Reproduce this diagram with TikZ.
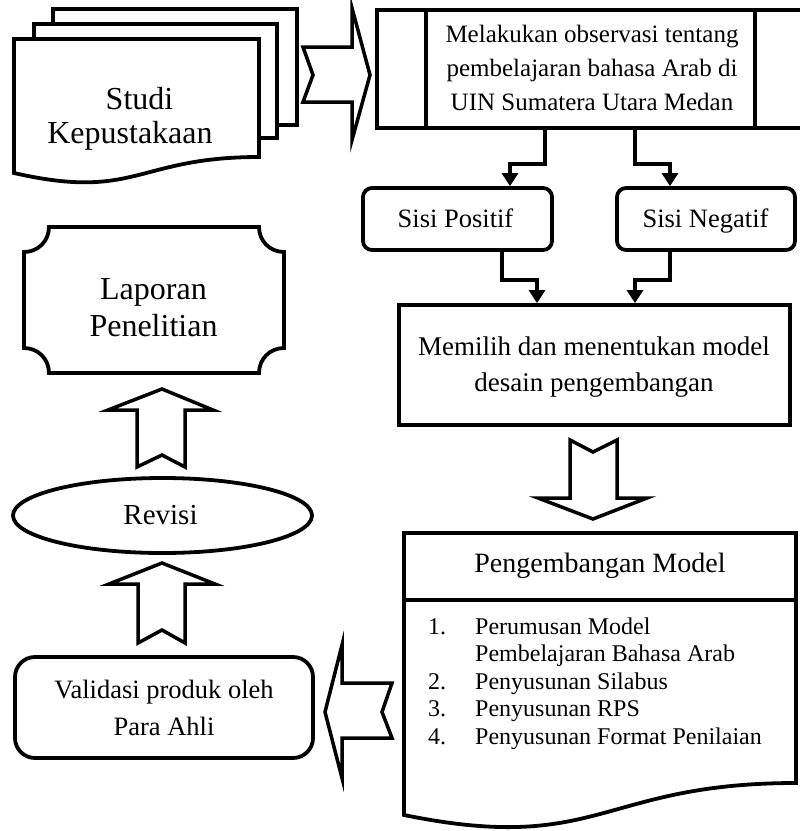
\documentclass[tikz,border=0pt]{standalone}
\usepackage{fontspec}
\setmainfont{Liberation Serif}
\usetikzlibrary{arrows.meta,shapes.geometric}
\begin{document}
\begin{tikzpicture}[x=1pt,y=-1pt,
  shp/.style={draw, line width=3.8pt, fill=white, line join=miter},
  box/.style={draw, line width=3.8pt, fill=white, inner sep=0pt},
  rbox/.style={box, rounded corners=9pt},
  conn/.style={line width=3.2pt, -{Triangle[width=16pt,length=13pt]}},
  barrow/.style={draw, line width=3.5pt, fill=white, line join=miter},
  txt/.style={inner sep=0pt, align=center, anchor=base},
]
\useasboundingbox (0,0) rectangle (800,831);
\clip (0,0) rectangle (800,831);

% Studi Kepustakaan (multi-document)
\draw[shp] (53,24) -- (53,9) -- (297,9) -- (297,125) -- (277,125);
\draw[shp] (34,39) -- (34,24) -- (277,24) -- (277,138) -- (259,138);
\draw[shp] (14,39) -- (259,39) -- (259,157) .. controls (136.5,157) and (136.5,201) .. (14,173) -- cycle;
\node[txt, font=\fontsize{32}{34}\selectfont] (studi) at (130,143) {\hspace*{19pt}Studi\\Kepustakaan};

% block arrow right
\draw[barrow] (303,47) -- (352,47) -- (352,8) -- (370,75) -- (352,140) -- (352,102) -- (303,102) -- (313,75) -- cycle;

% observation box
\node[box, minimum width=425pt, minimum height=118pt] (obs) at (589.5,69) {};
\draw[line width=3.8pt] ([xshift=51pt]obs.north west) -- ([xshift=51pt]obs.south west);
\draw[line width=3.8pt] ([xshift=380pt]obs.north west) -- ([xshift=380pt]obs.south west);
\node[txt, font=\fontsize{25}{34}\selectfont] (obstext) at (592,110) {Melakukan observasi tentang\\pembelajaran bahasa Arab di\\UIN Sumatera Utara Medan};

% Sisi boxes
\node[rbox, minimum width=189pt, minimum height=62pt] (pos) at (457.5,219) {};
\node[txt, font=\fontsize{26.5}{30}\selectfont] (postext) at (455.5,227) {Sisi Positif};
\node[rbox, minimum width=178pt, minimum height=62pt] (neg) at (706,219) {};
\node[txt, font=\fontsize{26.5}{30}\selectfont] (negtext) at (705.5,227) {Sisi Negatif};

\draw[conn] ([xshift=-44.5pt]obs.south) -- ++(0,34) -| ([xshift=52.5pt]pos.north);
\draw[conn] ([xshift=45.5pt]obs.south) -- ++(0,34) -| ([xshift=-36pt]neg.north);

% Memilih box
\node[box, minimum width=391pt, minimum height=120pt] (mem) at (594.5,365) {};
\node[txt, font=\fontsize{27}{36}\selectfont] (memtext) at (594,391) {Memilih dan menentukan model\\desain pengembangan};

\draw[conn] ([xshift=44.5pt]pos.south) -- ++(0,28) -| ([xshift=-57.5pt]mem.north);
\draw[conn] ([xshift=-36pt]neg.south) -- ++(0,28) -| ([xshift=40.5pt]mem.north);

% block arrow down
\draw[barrow] (570,440) -- (593,452) -- (617,440) -- (617,498) -- (647,498) -- (593,519) -- (538,498) -- (570,498) -- cycle;

% Pengembangan Model (document)
\draw[shp] (404,533) -- (796,533) -- (796,783) .. controls (600,783) and (600,855) .. (404,815) -- cycle;
\draw[line width=3.8pt] (404,600) -- (796,600);
\node[txt, font=\fontsize{28}{32}\selectfont] (pmtitle) at (600,572) {Pengembangan Model};
\node[inner sep=0pt, align=left, anchor=base west, font=\fontsize{24}{27.5}\selectfont] (pmlist) at (428,744)
  {\makebox[47pt][l]{1.}Perumusan Model\\
   \hspace*{47pt}Pembelajaran Bahasa Arab\\
   \makebox[47pt][l]{2.}Penyusunan Silabus\\
   \makebox[47pt][l]{3.}Penyusunan RPS\\
   \makebox[47pt][l]{4.}Penyusunan Format Penilaian};

% block arrow left
\draw[barrow] (392,683) -- (342,683) -- (342,645) -- (325,712) -- (342,778) -- (342,738) -- (392,738) -- (382,712) -- cycle;

% Validasi
\node[box, rounded corners=20pt, minimum width=298pt, minimum height=101pt] (val) at (164,707.5) {};
\node[txt, font=\fontsize{26.5}{37}\selectfont] (valtext) at (164,735) {Validasi produk oleh\\Para Ahli};

% block arrow up (val -> rev)
\draw[barrow] (138,643) -- (138,584) -- (109,584) -- (162,563) -- (215,584) -- (185,584) -- (185,643) -- (162,630) -- cycle;

% Revisi
\node[ellipse, draw, line width=3.8pt, fill=white, inner sep=0pt, minimum width=299pt, minimum height=75pt] (rev) at (162.5,515.5) {};
\node[txt, font=\fontsize{29}{32}\selectfont] (revtext) at (160.5,524) {Revisi};

% block arrow up (rev -> lap)
\draw[barrow] (137,467) -- (137,410) -- (108,410) -- (162,389) -- (213,410) -- (185,410) -- (185,467) -- (162,455) -- cycle;

% Laporan Penelitian (plaque)
\draw[shp] (49,227) -- (259,227) .. controls (259,241) and (270,252) .. (284,252) -- (284,348)
  .. controls (270,348) and (259,359) .. (259,373) -- (49,373)
  .. controls (49,359) and (38,348) .. (24,348) -- (24,252)
  .. controls (38,252) and (49,241) .. (49,227) -- cycle;
\node[txt, font=\fontsize{32}{37}\selectfont] (lap) at (153.5,336) {Laporan\\Penelitian};
\end{tikzpicture}
\end{document}
